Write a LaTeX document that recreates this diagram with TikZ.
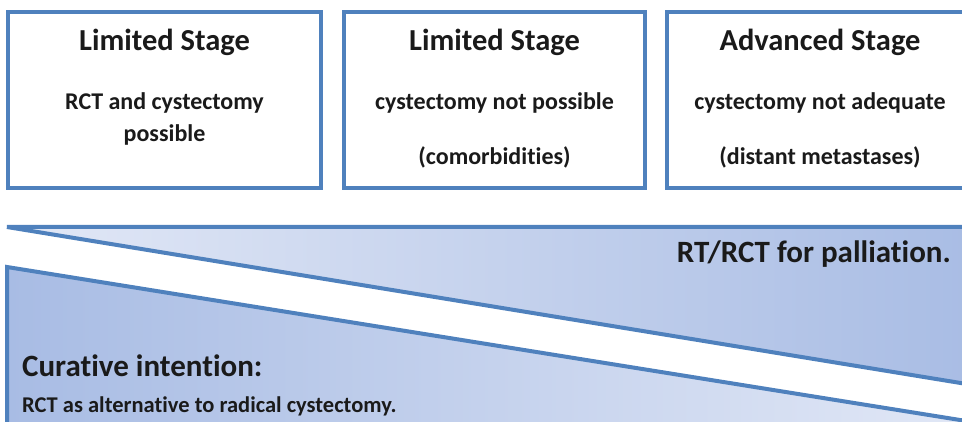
\documentclass[tikz,border=0pt]{standalone}
\usepackage{fontspec}
\setmainfont{Carlito}[Ligatures={NoCommon}]
\usepackage{xcolor}
\usepackage{tikz}
\usetikzlibrary{positioning}
\definecolor{stageBlue}{HTML}{4F81BD}
\definecolor{shadeLight}{HTML}{E2E8F6}
\definecolor{shadeDark}{HTML}{A8BCE4}
\definecolor{stageText}{HTML}{1A1A1A}

\begin{document}
\begin{tikzpicture}[x=1pt, y=-1pt,
    stagebox/.style={draw=stageBlue, line width=4pt, fill=white, inner sep=0pt},
    wedge/.style={draw=stageBlue, line width=4pt, line join=miter},
    title/.style={anchor=base, inner sep=0pt, text=stageText, font=\fontsize{30.5}{34}\selectfont\bfseries},
    detail/.style={anchor=base, inner sep=0pt, text=stageText, font=\fontsize{24}{28}\selectfont\bfseries}]
  \useasboundingbox (0,0) rectangle (962,422);

  % two wedges for the treatment intention
  \draw[wedge, left color=shadeLight, right color=shadeDark]
    (7,227) -- (985,227) -- (985,387) -- cycle;
  \draw[wedge, left color=shadeDark, right color=shadeLight]
    (7,267) -- (985,424) -- (7,424) -- cycle;

  % stage boxes
  \node[stagebox, minimum width=313pt, minimum height=176pt] (limA) at (164.5,100) {};
  \node[stagebox, minimum width=301pt, minimum height=176pt] (limB) at (494.5,100) {};
  \node[stagebox, minimum width=306pt, minimum height=176pt] (adv) at (820,100) {};

  \node[title] (limAtitle) at (164.5,51) {Limited Stage};
  \node[detail] (limAline) at (164.5,110) {RCT and cystectomy};
  \node[detail] (limAnote) at (164.5,142) {possible};

  \node[title] (limBtitle) at (494.5,51) {Limited Stage};
  \node[detail] (limBline) at (494.5,110) {cystectomy not possible};
  \node[detail] (limBnote) at (494.5,165) {(comorbidities)};

  \node[title] (advtitle) at (820,51) {Advanced Stage};
  \node[detail] (advline) at (820,110) {cystectomy not adequate};
  \node[detail] (advnote) at (820,165) {(distant metastases)};

  % intention labels
  \node[title, font=\fontsize{31}{35}\selectfont\bfseries, anchor=base east] (palliation) at (951,263) {RT/RCT for palliation.};
  \node[title, font=\fontsize{31}{35}\selectfont\bfseries, anchor=base west] (curative) at (22,376) {Curative intention:};
  \node[detail, font=\fontsize{22.5}{26}\selectfont\bfseries, anchor=base west] (curativeline) at (22,412) {RCT as alternative to radical cystectomy.};
\end{tikzpicture}
\end{document}
